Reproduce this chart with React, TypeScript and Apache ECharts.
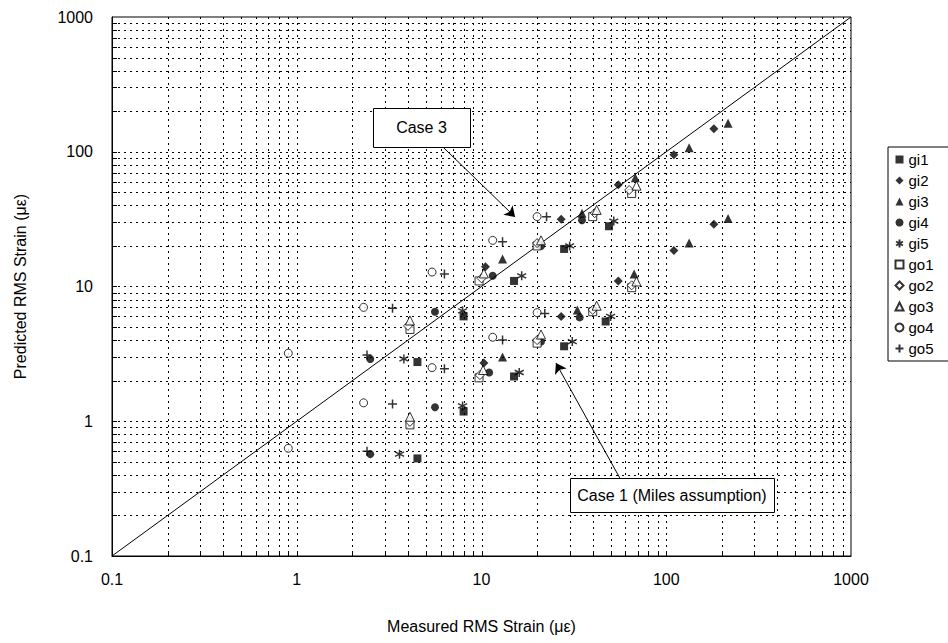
import React, { useEffect, useRef } from "react";
import * as echarts from "echarts";

const FONT = "'Liberation Sans', Arial, Helvetica, sans-serif";

const AXIS_MIN = 0.1;
const AXIS_MAX = 1000;
const gridTicks = [
  0.2, 0.3, 0.4, 0.5, 0.6, 0.7, 0.8, 0.9, 1,
  2, 3, 4, 5, 6, 7, 8, 9, 10,
  20, 30, 40, 50, 60, 70, 80, 90, 100,
  200, 300, 400, 500, 600, 700, 800, 900,
];
const tickLabels = ["0.1", "1", "10", "100", "1000"];
const diagonal = [[0.1, 0.1], [1000, 1000]];

const gi1 = [[4.5, 0.53], [4.5, 2.75], [8.0, 1.18], [8.0, 6.0], [15, 2.15], [15, 11], [28, 3.6], [28, 19], [47, 5.5], [49, 28]];
const gi2 = [[10.3, 2.7], [10.5, 14], [27, 6.0], [27, 31.5], [55, 11], [55, 57], [110, 18.5], [110, 95], [181, 29], [181, 148]];
const gi3 = [[13, 3.0], [13, 16], [33, 6.7], [35, 35], [67, 12.4], [68, 64], [133, 21], [133, 107], [216, 32], [216, 163]];
const gi4 = [[2.5, 0.57], [2.5, 2.9], [5.6, 1.27], [5.6, 6.5], [11, 2.3], [11.5, 12], [21, 3.9], [21, 20], [34, 5.9], [35, 31]];
const gi5 = [[3.6, 0.57], [3.8, 2.9], [7.9, 1.3], [7.9, 6.6], [16, 2.3], [16.5, 12], [31, 3.9], [30, 20], [50, 6.0], [52, 30.6]];
const go1 = [[4.1, 0.94], [4.1, 4.8], [9.7, 2.1], [9.7, 11], [20, 3.8], [20, 20], [40, 6.5], [40, 33], [65, 9.8], [65, 49]];
const go2 = [[4.1, 0.99], [4.0, 5.1], [9.8, 2.2], [10, 11.5], [20, 4.0], [20, 21], [40, 6.7], [41, 35], [65, 10.2], [63, 52]];
const go3 = [[4.1, 1.08], [4.1, 5.6], [10.2, 2.4], [10.3, 12.5], [21, 4.4], [21, 22], [42, 7.2], [42, 37], [69, 10.9], [69, 56]];
const go4 = [[0.9, 0.63], [0.9, 3.2], [2.3, 1.37], [2.3, 7.0], [5.4, 2.5], [5.4, 12.8], [11.5, 4.2], [11.5, 22], [20, 6.4], [20, 33]];
const go5 = [[2.4, 0.6], [2.4, 3.1], [3.3, 1.34], [3.3, 6.9], [6.3, 2.45], [6.3, 12.4], [13, 4.0], [13, 21.5], [22, 6.3], [22.5, 33]];

const case3Arrow = [[6.2, 108], [15.2, 32.8]];
const case1Arrow = [[56, 0.38], [25.3, 2.7]];

const PLUS = "path://M5,0L5,10M0,5L10,5";
const STAR = "path://M5,0L5,10M0.7,2.5L9.3,7.5M0.7,7.5L9.3,2.5";

const seriesDefs = [
  { name: "gi1", data: gi1, symbol: "rect", size: 8, hollow: false },
  { name: "gi2", data: gi2, symbol: "diamond", size: 9, hollow: false },
  { name: "gi3", data: gi3, symbol: "triangle", size: 9, hollow: false },
  { name: "gi4", data: gi4, symbol: "circle", size: 8, hollow: false },
  { name: "gi5", data: gi5, symbol: STAR, size: 9, hollow: true, line: true },
  { name: "go1", data: go1, symbol: "rect", size: 8, hollow: true },
  { name: "go2", data: go2, symbol: "diamond", size: 9, hollow: true },
  { name: "go3", data: go3, symbol: "triangle", size: 9, hollow: true },
  { name: "go4", data: go4, symbol: "circle", size: 8, hollow: true },
  { name: "go5", data: go5, symbol: PLUS, size: 9, hollow: true, line: true },
];

const px = (v: number) => Math.round(v) + 0.5;

export default function App() {
  const ref = useRef<HTMLDivElement>(null);
  useEffect(() => {
    if (!ref.current) return;
    const chart = echarts.init(ref.current, undefined, { renderer: "svg" });
    const dash = { stroke: "#000", lineWidth: 1, lineDash: [2, 4] };
    const solid = { stroke: "#000", lineWidth: 1 };
    const option: any = {
      animation: false,
      backgroundColor: "#fff",
      grid: { left: 112, top: 17, right: 97, bottom: 87, show: true, borderColor: "#000", borderWidth: 1, backgroundColor: "transparent" },
      xAxis: {
        type: "log", logBase: 10, min: AXIS_MIN, max: AXIS_MAX,
        axisLine: { show: true, onZero: false, lineStyle: { color: "#000", width: 1 } },
        axisTick: { show: false }, splitLine: { show: false },
        axisLabel: { fontFamily: FONT, fontSize: 16, color: "#000", margin: 15,
          formatter: (v: number) => tickLabels[Math.round(Math.log10(v)) + 1] },
        name: "Measured RMS Strain (με)", nameLocation: "middle", nameGap: 62,
        nameTextStyle: { fontFamily: FONT, fontSize: 16, color: "#000" },
      },
      yAxis: {
        type: "log", logBase: 10, min: AXIS_MIN, max: AXIS_MAX,
        axisLine: { show: true, onZero: false, lineStyle: { color: "#000", width: 1 } },
        axisTick: { show: false }, splitLine: { show: false },
        axisLabel: { fontFamily: FONT, fontSize: 16, color: "#000", margin: 19,
          formatter: (v: number) => tickLabels[Math.round(Math.log10(v)) + 1] },
        name: "Predicted RMS Strain (με)", nameLocation: "middle", nameGap: 84,
        nameTextStyle: { fontFamily: FONT, fontSize: 16, color: "#000" },
      },
      legend: {
        orient: "vertical", left: 888, top: 147, itemWidth: 8, itemHeight: 8, itemGap: 6,
        borderColor: "#000", borderWidth: 1, padding: [5, 16, 5, 5], backgroundColor: "#fff",
        textStyle: { fontFamily: FONT, fontSize: 15, color: "#000" },
        data: seriesDefs.map((s) => s.name),
      },
      graphic: [
        { type: "rect", left: 373, top: 108, z: 50, shape: { width: 97, height: 39 }, style: { fill: "#fff", stroke: "#000", lineWidth: 1 } },
        { type: "text", x: 421.5, y: 127.5, z: 51, style: { text: "Case 3", font: `16px ${FONT}`, fill: "#000", align: "center", verticalAlign: "middle" } },
        { type: "rect", left: 570, top: 478, z: 50, shape: { width: 204, height: 34 }, style: { fill: "#fff", stroke: "#000", lineWidth: 1 } },
        { type: "text", x: 672, y: 495, z: 51, style: { text: "Case 1 (Miles assumption)", font: `16px ${FONT}`, fill: "#000", align: "center", verticalAlign: "middle" } },
      ],
      series: [
        {
          type: "custom", silent: true, z: 1, data: gridTicks.map((v) => [v, 1]), encode: { x: 0, y: 1 },
          renderItem: (_p: any, api: any) => {
            const v = api.value(0);
            const t = api.coord([v, AXIS_MAX]);
            const b = api.coord([v, AXIS_MIN]);
            const x = px(t[0]);
            return { type: "group", children: [
              { type: "line", shape: { x1: x, y1: t[1], x2: x, y2: b[1] }, style: dash },
              { type: "line", shape: { x1: x, y1: b[1], x2: x, y2: b[1] - 5 }, style: solid },
            ] };
          },
        },
        {
          type: "custom", silent: true, z: 1, data: gridTicks.map((v) => [1, v]), encode: { x: 0, y: 1 },
          renderItem: (_p: any, api: any) => {
            const v = api.value(1);
            const l = api.coord([AXIS_MIN, v]);
            const r = api.coord([AXIS_MAX, v]);
            const y = px(l[1]);
            return { type: "group", children: [
              { type: "line", shape: { x1: l[0], y1: y, x2: r[0], y2: y }, style: dash },
              { type: "line", shape: { x1: l[0], y1: y, x2: l[0] + 5, y2: y }, style: solid },
            ] };
          },
        },
        {
          type: "line", data: diagonal, symbol: "none", silent: true, z: 2,
          lineStyle: { color: "#000", width: 1 },
          markLine: {
            silent: true, symbol: ["none", "arrow"], symbolSize: 10, animation: false,
            lineStyle: { color: "#000", width: 1, type: "solid" }, label: { show: false },
            data: [
              [{ coord: case3Arrow[0] }, { coord: case3Arrow[1] }],
              [{ coord: case1Arrow[0] }, { coord: case1Arrow[1] }],
            ],
          },
        },
        ...seriesDefs.map((s) => ({
          name: s.name, type: "scatter", data: s.data, symbol: s.symbol, symbolSize: s.size, z: 5,
          itemStyle: s.line
            ? { color: "none", borderColor: "#000", borderWidth: 1.5 }
            : s.hollow
            ? { color: "#fff", borderColor: "#000", borderWidth: 1 }
            : { color: "#000", borderColor: "#000", borderWidth: 0 },
        })),
      ],
    };
    chart.setOption(option);
    return () => chart.dispose();
  }, []);
  return <div ref={ref} style={{ width: 948, height: 643, position: "absolute", left: 0, top: 0 }} />;
}
